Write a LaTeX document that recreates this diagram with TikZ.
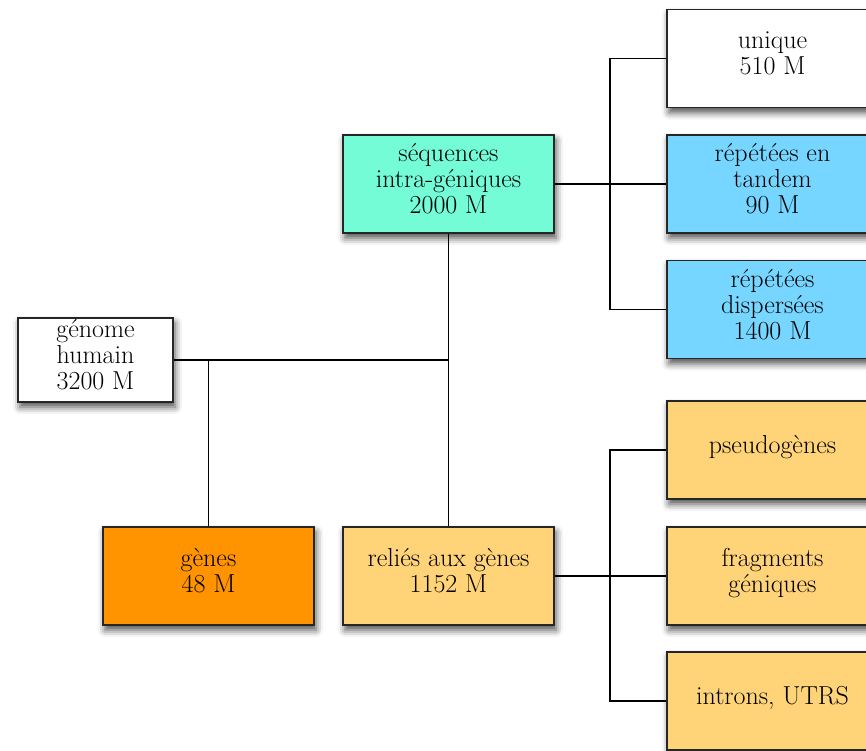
\documentclass[tikz,border=0pt]{standalone}
\usepackage{fontspec}
\usetikzlibrary{shadows.blur}
\definecolor{spindrift}{HTML}{73FCD6}
\definecolor{sky}{HTML}{76D6FF}
\definecolor{tangerine}{HTML}{FF9300}
\definecolor{cantaloupe}{HTML}{FFD479}
\begin{document}
\begin{tikzpicture}
  [x=1pt,y=-1pt,
   every node/.style={draw=black!85,line width=1.2pt,fill=white,align=center,
     inner sep=2pt,text depth=11pt,font=\fontsize{26}{26}\selectfont,
     blur shadow={shadow xshift=2pt,shadow yshift=-5pt,shadow blur radius=7pt,shadow opacity=70}},
   box/.style={minimum width=211pt,minimum height=98pt},
   link/.style={line width=1.3pt}]
  \useasboundingbox (0,0) rectangle (866,750);
  \node[minimum width=155pt,minimum height=84pt,inner ysep=0pt] (gen) at (95.5,360) {génome\\humain\\3200 M};
  \node[box,fill=spindrift] (seq) at (448.5,184) {séquences\\intra-géniques\\2000 M};
  \node[box,fill=tangerine] (genes) at (208.5,576) {gènes\\48 M};
  \node[box,fill=cantaloupe] (rel) at (448.5,576) {reliés aux gènes\\1152 M};
  \node[box] (uni) at (772.5,58.5) {unique\\510 M};
  \node[box,fill=sky] (tan) at (772.5,184) {répétées en\\tandem\\90 M};
  \node[box,fill=sky] (dis) at (772.5,309.5) {répétées\\dispersées\\1400 M};
  \node[box,fill=cantaloupe] (pse) at (772.5,450) {pseudogènes};
  \node[box,fill=cantaloupe] (fra) at (772.5,576) {fragments\\géniques};
  \node[box,fill=cantaloupe] (int) at (772.5,701) {introns, UTRS};
  \coordinate (b1) at (610,184);
  \coordinate (b2) at (610,576);
  \draw[link] (gen.east) -- (seq.south |- gen.east);
  \draw[link] (genes.north) -- (genes.north |- gen.east);
  \draw[link] (seq.south) -- (rel.north);
  \foreach \from/\to in {seq/tan,rel/fra}
    \draw[link] (\from.east) -- (\to.west);
  \draw[link] (uni.west) -| (b1) |- (dis.west);
  \draw[link] (pse.west) -| (b2) |- (int.west);
\end{tikzpicture}
\end{document}
